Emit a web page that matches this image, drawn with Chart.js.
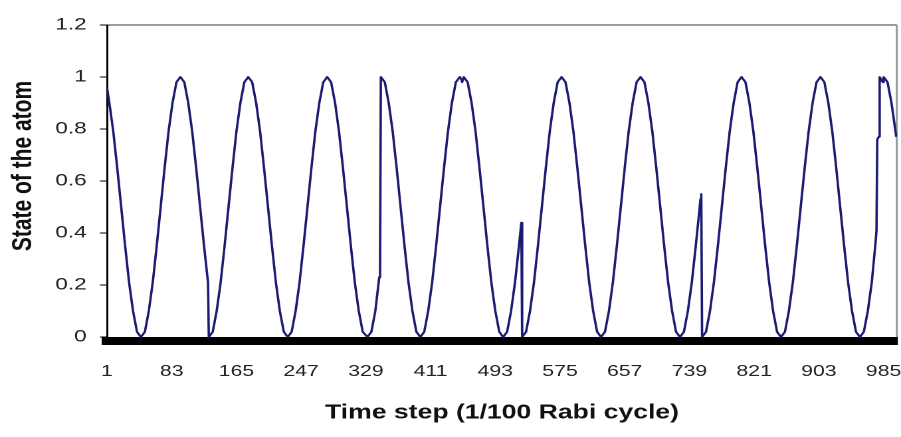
<!DOCTYPE html>
<html>
<head>
<meta charset="utf-8">
<script src="https://cdn.jsdelivr.net/npm/chart.js@4/dist/chart.umd.min.js"></script>
<style>
  html, body { margin: 0; padding: 0; background: #fff; overflow: hidden; width: 901px; height: 437px; }
  #wrap { position: absolute; left: 0; top: 0; width: 678px; height: 437px;
          transform: scaleX(1.3289); transform-origin: 0 0; }
</style>
</head>
<body>
<div id="wrap"><canvas id="c" width="678" height="437"></canvas></div>
<script>
// Time steps (1/100 Rabi cycle) and the atom's state at each sampled step
const steps = [
  1, 4, 9, 14, 19, 24, 29, 34, 39, 44, 49, 54, 59, 64, 69, 74, 79, 84, 89, 94,
  99, 104, 109, 114, 119, 124, 129, 130, 135, 140, 145, 150, 155, 160, 165, 170,
  175, 180, 185, 190, 195, 200, 205, 210, 215, 220, 225, 230, 235, 240, 245, 250,
  255, 260, 265, 270, 275, 280, 285, 290, 295, 300, 305, 310, 315, 320, 325, 331,
  336, 341, 346, 347, 348, 353, 358, 363, 368, 373, 378, 383, 388, 393, 398, 403,
  408, 413, 418, 423, 428, 433, 438, 443, 448, 450, 451, 453, 458, 463, 468, 473,
  478, 483, 488, 493, 498, 503, 508, 513, 518, 523, 525, 526, 527, 532, 537, 542,
  547, 552, 557, 562, 567, 572, 577, 582, 587, 592, 597, 602, 607, 612, 617, 622,
  627, 632, 637, 642, 647, 652, 657, 662, 667, 672, 677, 682, 687, 692, 697, 702,
  707, 712, 717, 722, 727, 732, 737, 742, 747, 752, 753, 754, 755, 760, 765, 770,
  775, 780, 785, 790, 795, 800, 805, 810, 815, 820, 825, 830, 835, 840, 845, 850,
  855, 860, 865, 870, 875, 880, 885, 890, 895, 900, 905, 910, 915, 920, 925, 930,
  935, 940, 945, 950, 955, 960, 965, 970, 975, 976, 977, 979, 980, 982, 984, 985,
  990, 995, 1001
];
const state = [
  0.96, 0.90, 0.79, 0.65, 0.50, 0.35, 0.21, 0.10, 0.02, 0, 0.02, 0.10, 0.21, 0.35, 0.50, 0.65, 0.79, 0.90, 0.98, 1,
  0.98, 0.90, 0.79, 0.65, 0.50, 0.35, 0.21, 0, 0.02, 0.10, 0.21, 0.35, 0.50, 0.65, 0.79, 0.90,
  0.98, 1, 0.98, 0.90, 0.79, 0.65, 0.50, 0.35, 0.21, 0.10, 0.02, 0, 0.02, 0.10, 0.21, 0.35,
  0.50, 0.65, 0.79, 0.90, 0.98, 1, 0.98, 0.90, 0.79, 0.65, 0.50, 0.35, 0.21, 0.10, 0.02, 0,
  0.02, 0.10, 0.23, 0.26, 1, 0.98, 0.90, 0.79, 0.65, 0.50, 0.35, 0.21, 0.10, 0.02, 0, 0.02,
  0.10, 0.21, 0.35, 0.50, 0.65, 0.79, 0.90, 0.98, 1, 0.99, 0.98, 1, 0.98, 0.90, 0.79, 0.65,
  0.50, 0.35, 0.21, 0.10, 0.02, 0, 0.02, 0.10, 0.21, 0.35, 0.41, 0.44, 0, 0.02, 0.10, 0.21,
  0.35, 0.50, 0.65, 0.79, 0.90, 0.98, 1, 0.98, 0.90, 0.79, 0.65, 0.50, 0.35, 0.21, 0.10, 0.02,
  0, 0.02, 0.10, 0.21, 0.35, 0.50, 0.65, 0.79, 0.90, 0.98, 1, 0.98, 0.90, 0.79, 0.65, 0.50,
  0.35, 0.21, 0.10, 0.02, 0, 0.02, 0.10, 0.21, 0.35, 0.50, 0.53, 0.55, 0, 0.02, 0.10, 0.21,
  0.35, 0.50, 0.65, 0.79, 0.90, 0.98, 1, 0.98, 0.90, 0.79, 0.65, 0.50, 0.35, 0.21, 0.10, 0.02,
  0, 0.02, 0.10, 0.21, 0.35, 0.50, 0.65, 0.79, 0.90, 0.98, 1, 0.98, 0.90, 0.79, 0.65, 0.50,
  0.35, 0.21, 0.10, 0.02, 0, 0.02, 0.10, 0.21, 0.37, 0.41, 0.76, 0.77, 1, 0.99, 0.98, 1,
  0.98, 0.90, 0.77
];
// Axis tick labels
const xTickSteps = [1, 83, 165, 247, 329, 411, 493, 575, 657, 739, 821, 903, 985];
const yTickValues = [0, 0.2, 0.4, 0.6, 0.8, 1, 1.2];

const xTitle = 'Time step (1/100 Rabi cycle)';
const yTitle = 'State of the atom';

// Axis extents; the last step and the top value also carry the grey plot frame
const X_MIN = 1, X_MAX = 1002;
const Y_MIN = -0.0154, Y_MAX = 1.2;
const FRAME = '#9c9c9c';

const FONT = "'Liberation Sans', Arial, sans-serif";
Chart.defaults.font.family = FONT;

// Rotated y-axis caption, drawn beside the value labels
const yCaption = {
  id: 'yCaption',
  afterDraw(chart) {
    const ctx = chart.ctx;
    ctx.save();
    ctx.translate(17.5, 166);
    ctx.rotate(-Math.PI / 2);
    ctx.font = "bold 21px " + FONT;
    ctx.fillStyle = '#111';
    ctx.textAlign = 'center';
    ctx.textBaseline = 'middle';
    ctx.fillText(yTitle, 0, 0);
    ctx.restore();
  }
};

new Chart(document.getElementById('c'), {
  type: 'line',
  data: {
    datasets: [{
      data: steps.map((s, i) => ({ x: s, y: state[i] })),
      borderColor: '#1b1b72',
      borderWidth: 1.8,
      borderJoinStyle: 'round',
      pointRadius: 0,
      tension: 0,
      fill: false
    }]
  },
  options: {
    responsive: false,
    animation: false,
    devicePixelRatio: 2,
    layout: { padding: { left: 0, right: 3, top: 25, bottom: 0 } },
    plugins: { legend: { display: false }, tooltip: { enabled: false } },
    scales: {
      x: {
        type: 'linear',
        position: 'bottom',
        min: X_MIN,
        max: X_MAX,
        afterBuildTicks: s => { s.ticks = xTickSteps.concat([X_MAX]).map(v => ({ value: v })); },
        afterFit: s => { s.height = 96; s.paddingLeft = 0; s.paddingRight = 0; },
        grid: {
          display: true,
          drawOnChartArea: true,
          drawTicks: false,
          lineWidth: 1.6,
          color: c => (c.tick && c.tick.value === X_MAX) ? FRAME : 'rgba(0,0,0,0)'
        },
        border: { display: true, color: '#000', width: 8 },
        ticks: {
          autoSkip: false,
          maxRotation: 0,
          padding: 21,
          color: '#222',
          font: { size: 16 },
          callback: v => xTickSteps.includes(v) ? String(v) : ''
        },
        title: {
          display: true,
          text: xTitle,
          color: '#111',
          font: { size: 20, weight: 'bold' },
          padding: { top: 0, bottom: 12 }
        }
      },
      y: {
        type: 'linear',
        position: 'left',
        min: Y_MIN,
        max: Y_MAX,
        afterBuildTicks: s => { s.ticks = yTickValues.map(v => ({ value: v })); },
        afterFit: s => { s.width = 80.5; s.paddingTop = 0; s.paddingBottom = 0; },
        grid: {
          display: true,
          drawOnChartArea: true,
          drawTicks: true,
          tickLength: 5.3,
          tickColor: '#000',
          tickWidth: 1,
          lineWidth: 2,
          color: c => (c.tick && c.tick.value === Y_MAX) ? FRAME : 'rgba(0,0,0,0)'
        },
        border: { display: true, color: '#000', width: 1.5 },
        ticks: {
          padding: 10,
          color: '#222',
          font: { size: 17 },
          callback: v => String(Number(v.toFixed(1)))
        }
      }
    }
  },
  plugins: [yCaption]
});
</script>
</body>
</html>
